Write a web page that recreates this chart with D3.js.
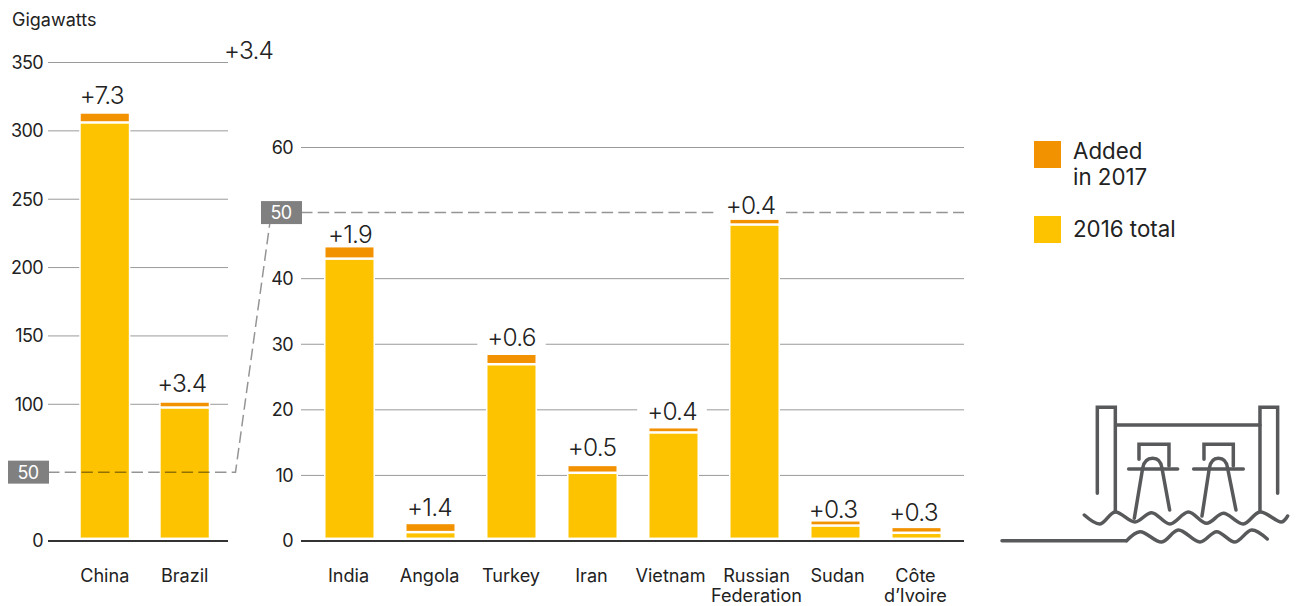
<!DOCTYPE html>
<html>
<head>
<meta charset="utf-8">
<script src="https://cdn.jsdelivr.net/npm/d3@7"></script>
<style>
  html, body { margin: 0; padding: 0; background: #fff; }
  svg { display: block; }
  text { font-family: Inter, "Noto Sans", sans-serif; fill: #222; }
</style>
</head>
<body>
<svg id="chart" width="1296" height="606"></svg>
<script>
// Data (gigawatts)
const bigCategories = ["China", "Brazil"];
const big2016 = [305.4, 96.9];
const bigAdded = [7.3, 4.4];
const bigLabels = ["+7.3", "+3.4"];
const bigTicks = [0, 100, 150, 200, 250, 300, 350];

const smallCategories = ["India", "Angola", "Turkey", "Iran", "Vietnam", "Russian Federation", "Sudan", "Côte d’Ivoire"];
const small2016 = [42.9, 1.2, 26.8, 10.25, 16.4, 48.1, 2.2, 1.1];
const smallAdded = [1.9, 1.4, 1.6, 1.2, 0.8, 0.9, 0.8, 0.9];
const smallLabels = ["+1.9", "+1.4", "+0.6", "+0.5", "+0.4", "+0.4", "+0.3", "+0.3"];
const smallTicks = [0, 10, 20, 30, 40, 60];

const breakValue = 50;
const strayLabel = "+3.4";

const colours = { added: "#f39200", total: "#fdc300", grid: "#9a9a9a", axis: "#333", box: "#808080" };

const svg = d3.select("#chart");
const baseline = 540.5;

// Scales
const yBig = d3.scaleLinear().domain([0, 350]).range([baseline, 62]);
const ySmall = d3.scaleLinear().domain([0, 60]).range([baseline, 147]);
const xBig = d3.scaleBand().domain(bigCategories).range([80, 209.5]).paddingInner(0.38);
const xSmall = d3.scaleBand().domain(smallCategories).range([324.75, 941.25]).paddingInner(0.389);

function valueLabel(sel) {
  return sel.attr("font-size", 24.5).attr("font-weight", 300).attr("letter-spacing", -0.8);
}

function drawPanel(cfg) {
  const g = svg.append("g");

  // Gridlines and tick labels
  const axis = d3.axisLeft(cfg.y)
    .tickValues(cfg.ticks)
    .tickSize(-(cfg.x1 - cfg.x0))
    .tickPadding(cfg.tickPad)
    .tickFormat(d3.format("d"));
  const axisG = g.append("g")
    .attr("transform", `translate(${cfg.x0},0)`)
    .call(axis);
  axisG.select(".domain").remove();
  axisG.selectAll("line")
    .attr("stroke", d => d === 0 ? colours.axis : colours.grid)
    .attr("stroke-width", d => d === 0 ? 2 : 1);
  axisG.selectAll("text")
    .attr("font-size", 18)
    .attr("letter-spacing", -0.6)
    .attr("dy", "0.36em")
    .style("font-family", "Inter, sans-serif");

  const rows = cfg.categories.map((c, i) => ({
    c, base: cfg.base[i], added: cfg.added[i], label: cfg.labels[i],
    lift: cfg.lift[i], shift: cfg.shift[i], nameShift: cfg.nameShift[i]
  }));

  // Value labels, white patch behind them breaks the gridlines
  const labels = g.append("g");
  const labelText = labels.selectAll("text.value")
    .data(rows)
    .join("text")
    .attr("class", "value")
    .attr("x", d => cfg.x(d.c) + cfg.x.bandwidth() / 2 + d.shift)
    .attr("y", d => cfg.y(d.base + d.added) - d.lift)
    .attr("text-anchor", "middle")
    .call(valueLabel)
    .text(d => d.label);
  labelText.each(function () {
    const b = this.getBBox();
    labels.insert("rect", "text")
      .attr("x", b.x - 10).attr("y", b.y + 3)
      .attr("width", b.width + 20).attr("height", b.height - 3)
      .attr("fill", "#fff");
  });

  // Bars
  const bars = g.append("g").attr("stroke", "#fff").attr("stroke-width", 1.5);
  bars.selectAll("rect.total")
    .data(rows)
    .join("rect")
    .attr("class", "total")
    .attr("x", d => cfg.x(d.c))
    .attr("width", cfg.x.bandwidth())
    .attr("y", d => cfg.y(d.base))
    .attr("height", d => cfg.y(0) - cfg.y(d.base) - 2.2)
    .attr("fill", colours.total);
  bars.selectAll("rect.added")
    .data(rows)
    .join("rect")
    .attr("class", "added")
    .attr("x", d => cfg.x(d.c))
    .attr("width", cfg.x.bandwidth())
    .attr("y", d => cfg.y(d.base + d.added))
    .attr("height", d => cfg.y(d.base) - cfg.y(d.base + d.added) - 1)
    .attr("fill", colours.added);

  // Category labels, long names go on two lines
  const catText = g.append("g").selectAll("text")
    .data(rows)
    .join("text")
    .attr("text-anchor", "middle")
    .attr("font-size", 18.1)
    .attr("y", 582);
  catText.each(function (d) {
    const cx = cfg.x(d.c) + cfg.x.bandwidth() / 2 + d.nameShift;
    d.c.split(" ").forEach((w, i) => {
      d3.select(this).append("tspan").attr("x", cx).attr("dy", i ? 20 : 0).text(w);
    });
  });
}

// lift and shift place each value label above its bar, nameShift nudges the category names
drawPanel({
  categories: bigCategories, base: big2016, added: bigAdded, labels: bigLabels, ticks: bigTicks,
  x: xBig, y: yBig, x0: 48, x1: 228, tickPad: 5,
  lift: [9, 9.6], shift: [-3, -3], nameShift: [0, 0]
});
drawPanel({
  categories: smallCategories, base: small2016, added: smallAdded, labels: smallLabels, ticks: smallTicks,
  x: xSmall, y: ySmall, x0: 301, x1: 964, tickPad: 8,
  lift: [3.5, 7.5, 8, 9.6, 7.6, 5.4, 3, 6], shift: [0.5, -1, 0, -0.5, -1.5, -4, -2.5, -3],
  nameShift: [-1, -1, -0.5, -1, -3, 2, 2, -1]
});

// Dashed link between the two 50 levels
const dashStyle = sel => sel.attr("fill", "none")
  .attr("stroke", "#000").attr("stroke-opacity", 0.42).attr("stroke-width", 1.5).attr("stroke-dasharray", "11.5 5.2");
svg.append("path")
  .attr("d", d3.line()([[48, yBig(breakValue)], [235.5, yBig(breakValue)], [270, 222]]))
  .call(dashStyle);
const yRightBreak = ySmall(breakValue);
[[301, 718], [786, 964]].forEach(s => {
  svg.append("line").attr("x1", s[0]).attr("x2", s[1]).attr("y1", yRightBreak).attr("y2", yRightBreak).call(dashStyle);
});

// Grey boxes with the 50 tick
[[8, yBig(breakValue)], [261, yRightBreak]].forEach(p => {
  svg.append("rect").attr("x", p[0]).attr("y", p[1] - 11.5).attr("width", 41).attr("height", 23).attr("fill", colours.box);
  svg.append("text").attr("x", p[0] + 20).attr("y", p[1] + 6.5).attr("text-anchor", "middle")
    .attr("font-size", 18).attr("letter-spacing", -0.6).style("fill", "#fff").text(breakValue);
});

// Unit and stray label
svg.append("text").attr("x", 12).attr("y", 25.5).attr("font-size", 18).text("Gigawatts");
svg.append("text").attr("x", 224).attr("y", 59).call(valueLabel).text(strayLabel);

// Legend
const legend = svg.append("g");
legend.append("rect").attr("x", 1034).attr("y", 141).attr("width", 27).attr("height", 27).attr("fill", colours.added);
legend.append("rect").attr("x", 1034).attr("y", 216).attr("width", 27).attr("height", 27).attr("fill", colours.total);
[["Added", 159], ["in 2017", 184.5], ["2016 total", 237]].forEach(t => {
  legend.append("text").attr("x", 1073).attr("y", t[1]).attr("font-size", 22.3).text(t[0]);
});

// Dam icon, traced in a 3x coordinate space
const icon = svg.append("g")
  .attr("transform", "translate(990,390) scale(0.3333)")
  .attr("fill", "none")
  .attr("stroke", "#58595b")
  .attr("stroke-width", 10.5)
  .attr("stroke-linecap", "round")
  .attr("stroke-linejoin", "miter");
const iconPaths = [
  "M322,310V52H376V365",
  "M810,362V52H863V310",
  "M378,105H810",
  "M447,208V163H537V228",
  "M416,237H563",
  "M433,385L458,235Q463,205,488,205Q512,205,516,235L539,360",
  "M642,208V163H730V228",
  "M611,237H760",
  "M636,378L658,235Q663,205,685,205Q709,205,713,235L738,360"
];
iconPaths.forEach(d => icon.append("path").attr("d", d));
const wave = d3.line().curve(d3.curveCatmullRom);
icon.append("path").attr("d", wave([[283,375],[330,402],[375,366],[435,396],[485,368],[540,402],[595,366],[650,400],[700,370],[760,402],[810,366],[875,396],[893,378]]));
icon.append("path").attr("d", "M36,452H410");
icon.append("path").attr("d", wave([[410,452],[450,425],[515,456],[565,420],[630,456],[680,425],[735,456],[785,420],[832,447]]));
</script>
</body>
</html>
